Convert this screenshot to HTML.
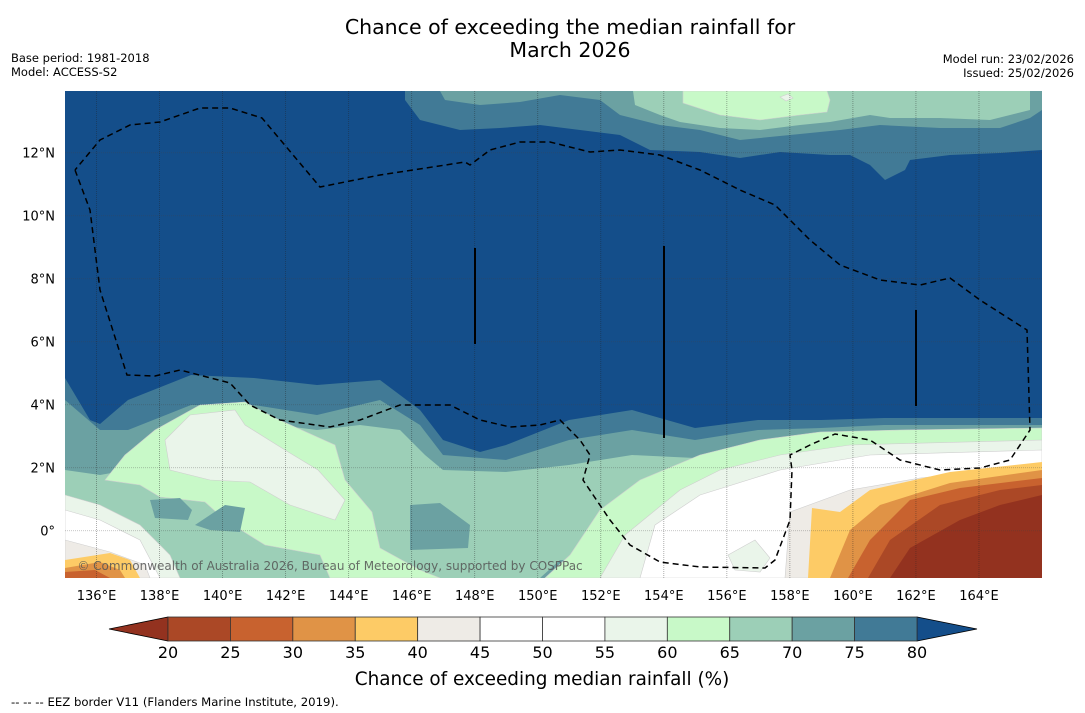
<!DOCTYPE html>
<html><head><meta charset="utf-8">
<style>
html,body{margin:0;padding:0;background:#fff;}
body{width:1085px;height:713px;overflow:hidden;font-family:"DejaVu Sans","Liberation Sans",sans-serif;}
svg{display:block}
</style></head>
<body>
<svg id="chart" width="1085" height="713" viewBox="0 0 1085 713" xmlns="http://www.w3.org/2000/svg" font-family="DejaVu Sans, Liberation Sans, sans-serif">
  <text x="570" y="34" text-anchor="middle" font-size="20.5">Chance of exceeding the median rainfall for</text>
  <text x="570" y="57" text-anchor="middle" font-size="20.5">March 2026</text>
  <text x="11" y="62" font-size="11.5">Base period: 1981-2018</text>
  <text x="11" y="76" font-size="11.5">Model: ACCESS-S2</text>
  <text x="1074" y="63" font-size="11.5" text-anchor="end">Model run: 23/02/2026</text>
  <text x="1074" y="77" font-size="11.5" text-anchor="end">Issued: 25/02/2026</text>
  <defs><clipPath id="mapclip"><rect x="65" y="91" width="977" height="487"/></clipPath></defs>
  <g id="map" clip-path="url(#mapclip)"></g>
  <g id="axes"></g>
  <g id="cbar"></g>
  <text x="542" y="685" text-anchor="middle" font-size="18.4">Chance of exceeding median rainfall (%)</text>
  <text x="11" y="706" font-size="11.7">--  --  -- EEZ border V11 (Flanders Marine Institute, 2019).</text>
</svg>
<script>
const levels=[20,25,30,35,40,45,50,55,60,65,70,75,80];
const bandColors=["#ab4826","#c8622f","#e09346","#fdcb66","#eeebe6","#ffffff","#ffffff","#eaf5ea","#c8f9c8","#9ccfb7","#6ba1a2","#417a96"];
const underColor="#93321f", overColor="#144e8a";
const lonTicks=[136,138,140,142,144,146,148,150,152,154,156,158,160,162,164];
const latTicks=[0,2,4,6,8,10,12];
const NS="http://www.w3.org/2000/svg";
const X0=65,X1=1042,Y0=91,Y1=578,LON0=135,LON1=166,LAT0=-1.5,LAT1=13.96;
const lonX=l=>X0+(l-LON0)/(LON1-LON0)*(X1-X0);
const latY=l=>Y1-(l-LAT0)/(LAT1-LAT0)*(Y1-Y0);
function mk(tag,attrs,parent){const e=document.createElementNS(NS,tag);for(const k in attrs)e.setAttribute(k,attrs[k]);parent.appendChild(e);return e;}
const map=document.getElementById('map');
mk('rect',{x:X0,y:Y0,width:X1-X0,height:Y1-Y0,fill:overColor},map);
// contour geometry (pixel shapes of the filled contour field), index = colour band
const shapes=[
 [11,"65,378 90,420 100,424 128,400 191,375 254,378 317,385 380,380 420,410 443,440 480,452 506,445 569,420 632,410 695,428 758,420 821,420 884,418 947,418 1042,418 1042,578 65,578"],
 [10,"65,400 100,430 128,430 191,405 254,405 317,415 380,400 420,425 443,455 506,460 569,440 632,430 695,440 758,430 821,428 884,425 947,425 1042,425 1042,578 65,578"],
 [9,"65,470 100,475 128,470 150,445 191,412 254,422 317,430 360,425 400,430 425,455 443,470 506,472 569,465 632,455 695,458 758,440 821,435 884,432 947,432 1042,432 1042,578 65,578"],
 [8,"105,480 125,455 155,430 200,405 245,402 275,418 335,445 345,480 372,512 380,548 420,570 440,578 330,578 320,555 265,545 225,520 205,502 160,497 140,485"],
 [7,"165,440 190,415 235,410 245,425 285,450 318,470 345,500 335,520 290,505 250,482 210,480 170,470"],
 [10,"150,500 180,498 192,510 188,520 155,518"],
 [10,"195,525 225,505 245,508 240,532 210,530"],
 [10,"410,505 440,503 470,525 468,548 410,550"],
 [10,"540,578 560,560 605,560 620,578"],
 [8,"545,578 570,555 600,510 640,480 700,455 760,440 820,432 900,430 1042,428 1042,578"],
 [7,"600,578 625,535 680,490 720,470 780,455 850,445 1042,440 1042,578"],
 [5,"640,578 655,525 700,495 780,470 870,455 1042,450 1042,578"],
 [7,"728,555 755,540 770,558 760,572 735,570"],
 [4,"785,578 790,512 850,490 920,478 1042,465 1042,578"],
 [3,"808,578 812,508 840,512 870,490 950,472 1042,462 1042,578"],
 [2,"830,578 850,530 880,505 950,483 1042,470 1042,578"],
 [1,"848,578 870,540 910,500 960,488 1042,478 1042,578"],
 [0,"868,578 890,540 940,505 1000,490 1042,485 1042,578"],
 [-1,"890,578 910,548 960,520 1000,505 1042,495 1042,578"],
 [7,"65,495 100,505 140,525 170,555 180,578 65,578"],
 [5,"65,510 100,520 140,540 160,578 65,578"],
 [4,"65,540 110,552 145,565 150,578 65,578"],
 [3,"65,560 110,553 130,560 140,578 65,578"],
 [2,"65,568 100,562 120,570 125,578 65,578"],
 [1,"65,572 95,570 110,578 65,578"],
 [11,"405,91 405,100 420,120 460,130 500,128 540,125 580,130 620,135 650,150 700,152 740,158 780,152 830,155 850,155 870,165 885,180 905,170 910,160 950,155 1000,153 1042,150 1042,91"],
 [10,"440,91 445,100 480,105 520,102 560,95 600,100 620,115 660,125 700,130 740,140 790,135 840,130 880,125 940,128 1000,128 1030,118 1042,110 1042,91"],
 [9,"633,91 635,105 660,115 680,122 720,128 760,130 800,125 830,122 870,115 890,118 940,118 990,120 1030,110 1030,91"],
 [8,"683,91 683,103 720,115 760,120 800,115 827,112 830,100 827,91"],
 [7,"780,97 788,94 793,98 786,101"]
];
shapes.forEach(s=>{const p=mk('polygon',{points:s[1],fill:s[0]<0?underColor:bandColors[s[0]],stroke:s[0]>=4&&s[0]<=8?"#cfcfcf":"none","stroke-width":0.6},map);

});
lonTicks.forEach(l=>{const e=mk('line',{x1:lonX(l),x2:lonX(l),y1:Y0,y2:Y1,stroke:"#222","stroke-opacity":0.45,"stroke-width":0.8,"stroke-dasharray":"1,1"},map);

});
latTicks.forEach(l=>{const e=mk('line',{x1:X0,x2:X1,y1:latY(l),y2:latY(l),stroke:"#444","stroke-opacity":0.4,"stroke-width":0.8,"stroke-dasharray":"1,1"},map);

});
const eez=mk('polyline',{points:"75,170 90,210 100,290 127,375 155,376 180,370 230,383 250,405 280,420 330,427 360,420 400,405 450,405 480,420 510,427 540,425 560,420 580,440 590,455 583,480 610,520 630,545 660,562 700,567 765,568 775,560 790,520 792,470 790,455 810,445 835,434 870,440 900,460 940,470 980,468 1010,460 1030,430 1027,330 980,300 950,278 920,285 880,280 840,265 810,240 775,205 740,190 700,170 660,155 620,150 590,152 550,142 520,142 490,150 470,165 465,162 380,175 320,187 262,118 230,108 200,108 160,122 130,125 100,140 75,170",fill:"none",stroke:"#000","stroke-width":1.5,"stroke-dasharray":"6,4"},map);


[[475,248,344],[664,246,438],[916,310,406]].forEach(v=>{const e=mk('line',{x1:v[0],x2:v[0],y1:v[1],y2:v[2],stroke:"#000","stroke-width":2},map);

});
const cr=mk('text',{x:330,y:570,"text-anchor":"middle","font-size":12,fill:"#555","fill-opacity":0.85},map);cr.textContent="© Commonwealth of Australia 2026, Bureau of Meteorology, supported by COSPPac";


const ax=document.getElementById('axes');
lonTicks.forEach(l=>{const t=mk('text',{x:lonX(l),y:600,"text-anchor":"middle","font-size":13},ax);t.textContent=l+"°E";

});
latTicks.forEach(l=>{const t=mk('text',{x:55,y:latY(l)+5,"text-anchor":"end","font-size":13},ax);t.textContent=l===0?"0°":l+"°N";

});
const cb=document.getElementById('cbar');
const CB0=168,CB1=917,CBY=617,CBH=24;
const cx=v=>CB0+(v-levels[0])/(levels[levels.length-1]-levels[0])*(CB1-CB0);
let t1=mk('polygon',{points:`${CB0},${CBY} ${CB0},${CBY+CBH} 109,${CBY+CBH/2}`,fill:underColor,stroke:"#000","stroke-width":0.8},cb);


let t2=mk('polygon',{points:`${CB1},${CBY} ${CB1},${CBY+CBH} 977,${CBY+CBH/2}`,fill:overColor,stroke:"#000","stroke-width":0.8},cb);


bandColors.forEach((c,i)=>{const r=mk('rect',{x:cx(levels[i]),y:CBY,width:cx(levels[i+1])-cx(levels[i]),height:CBH,fill:c,stroke:"#333","stroke-width":0.8},cb);

});
levels.forEach(v=>{const t=mk('text',{x:cx(v),y:658,"text-anchor":"middle","font-size":16},cb);t.textContent=v;

});
</script>
</body></html>
